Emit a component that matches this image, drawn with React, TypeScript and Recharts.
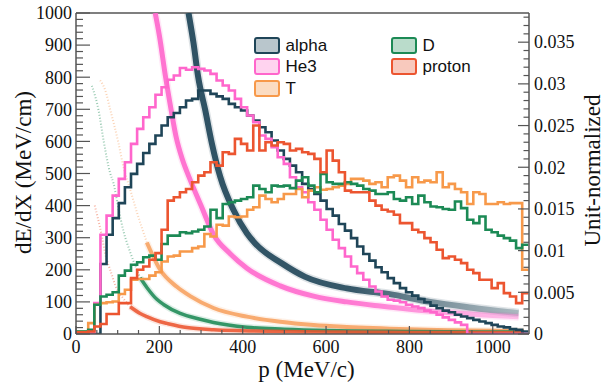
import React from "react";
import {
  ComposedChart,
  Line,
  XAxis,
  YAxis,
  ReferenceLine,
  Legend,
} from "recharts";

/* ------------------------------------------------------------------ */
/* Data */
/* ------------------------------------------------------------------ */

// histograms: 75 bins over 0..1100 MeV/c, contents in units of 1e-3 (unit-normalized)
const HIST_RANGE = 1100;
const HIST_BINS = 75;
const HIST_UNIT = 1e-3;

const alphaHist = [
  0, 0, 0, 0, 8.4, 11.9, 13.9, 15.7, 17.6, 19.2, 20.4, 21.7, 22.8, 23.8, 25.0,
  26.0, 26.5, 27.2, 28.0, 28.2, 29.2, 29.2, 28.8, 28.5, 28.2, 27.6, 27.2, 26.8,
  26.2, 25.6, 24.8, 24.2, 23.2, 22.0, 21.0, 20.2, 19.4, 18.0, 17.4, 16.8, 16.0,
  15.0, 14.2, 13.2, 12.4, 11.5, 10.5, 9.6, 8.8, 8.0, 7.4, 6.7, 6.1, 5.5, 5.0,
  4.6, 4.2, 3.8, 3.4, 3.1, 2.8, 2.6, 2.3, 2.1, 1.9, 1.7, 1.5, 1.3, 1.1, 0.9,
  0.8, 0.6, 0.5, 0.3,
];

const he3Hist = [
  0.15, 0.15, 0.2, 3.7, 11.9, 14.2, 16.6, 18.6, 20.6, 22.8, 24.6, 26.0, 27.2,
  28.7, 29.6, 30.5, 31.0, 31.9, 31.7, 32.0, 31.8, 31.6, 31.2, 30.4, 29.8, 29.2,
  28.2, 27.2, 26.2, 25.4, 23.8, 23.4, 22.4, 21.2, 20.4, 18.8, 17.6, 17.0, 15.8,
  14.9, 13.7, 12.5, 11.3, 10.3, 9.3, 8.1, 7.3, 6.5, 5.7, 5.1, 4.5, 4.1, 4.0,
  3.8, 3.5, 3.3, 3.1, 2.8, 2.6, 2.3, 2.0, 1.7, 1.4, 1.1, 0, 0, 0, 0, 0, 0, 0,
  0, 0, 0,
];

const tritonHist = [
  0.3, 0.3, 1.3, 3.5, 3.7, 3.8, 3.9, 4.8, 5.3, 6.5, 6.6, 6.6, 7.0, 7.4, 8.7,
  9.3, 9.4, 9.9, 9.9, 10.3, 10.5, 12.0, 11.7, 13.1, 13.0, 14.1, 14.0, 14.1,
  14.9, 15.2, 16.6, 16.2, 15.8, 16.2, 16.8, 16.8, 17.4, 16.4, 17.2, 17.6, 17.3,
  17.4, 17.6, 17.8, 18.0, 18.6, 18.6, 18.4, 18.0, 18.2, 17.6, 18.8, 19.0, 18.4,
  17.6, 18.8, 18.2, 18.4, 18.2, 19.4, 17.6, 18.0, 17.4, 17.0, 15.6, 17.0, 16.8,
  15.6, 15.6, 15.8, 15.6, 15.7, 15.7, 7.7,
];

const deuteronHist = [
  0.3, 0.3, 0.5, 3.5, 4.5, 4.7, 5.0, 7.0, 7.6, 8.3, 8.6, 9.2, 9.4, 8.9, 10.8,
  11.8, 11.8, 12.2, 12.1, 12.3, 12.5, 12.9, 14.9, 13.9, 15.6, 15.8, 16.0, 16.2,
  16.4, 17.8, 17.4, 17.0, 17.8, 17.7, 17.8, 17.5, 18.4, 18.8, 17.8, 17.0, 19.2,
  18.2, 18.0, 18.0, 18.2, 18.0, 17.8, 17.4, 17.2, 16.8, 16.8, 17.0, 16.2, 16.0,
  16.4, 15.6, 16.6, 15.8, 15.3, 15.2, 15.0, 14.9, 15.9, 15.1, 13.7, 13.3, 14.1,
  12.5, 12.2, 11.8, 11.5, 11.2, 10.3, 10.7,
];

const protonHist = [
  0.2, 0.2, 0.3, 0.9, 1.2, 2.4, 2.4, 3.7, 3.7, 6.7, 7.7, 8.1, 8.9, 9.7, 12.5,
  16.0, 16.4, 17.0, 17.4, 18.2, 19.0, 19.4, 20.6, 20.2, 21.8, 21.6, 23.4, 22.8,
  22.0, 25.0, 22.0, 23.0, 22.6, 23.0, 22.8, 22.0, 22.2, 21.8, 21.6, 21.0, 19.4,
  22.0, 20.8, 19.4, 17.2, 17.0, 17.0, 17.0, 16.0, 15.4, 14.9, 14.7, 14.3, 13.3,
  13.3, 12.5, 12.2, 11.5, 11.0, 10.1, 9.1, 9.3, 8.9, 8.5, 7.7, 7.3, 6.5, 6.5,
  5.5, 6.1, 4.9, 4.5, 3.7, 4.9,
];

// dE/dx bands (centre of the scatter cloud): momentum p and dE/dX (MeV/cm)
const alphaBandP = [270, 282, 293, 310, 326, 346, 378, 410, 430, 494, 550, 650, 750, 850, 950, 1062];
const alphaBandDedx = [1000, 906, 802, 698, 594, 490, 386, 314, 282, 220, 178, 142, 125, 100, 82, 65];

const he3BandP = [190, 200, 215, 228, 240, 255, 274, 300, 330, 370, 410, 490, 570, 650, 730, 800, 900, 1000, 1062];
const he3BandDedx = [1000, 930, 800, 700, 615, 545, 480, 400, 310, 250, 205, 150, 118, 100, 87, 77, 66, 58, 54];

const tritonFaintP = [58, 70, 82, 102, 114, 130, 146, 170];
const tritonFaintDedx = [790, 760, 700, 594, 520, 450, 380, 285];
const tritonBandP = [170, 202, 242, 274, 330, 410, 490, 570, 650, 800, 1000, 1075];
const tritonBandDedx = [285, 200, 147, 118, 81, 54, 38, 28, 22, 15, 10, 9];

const deuteronFaintP = [38, 54, 66, 82, 90, 102, 114, 130, 154];
const deuteronFaintDedx = [773, 698, 604, 501, 470, 390, 320, 255, 175];
const deuteronBandP = [154, 170, 194, 210, 250, 298, 330, 410, 500, 600, 800, 1000, 1075];
const deuteronBandDedx = [175, 145, 108, 92, 64, 46, 36, 21, 15, 11, 8, 6, 6];

const protonFaintP = [45, 58, 74, 82, 98, 114, 130];
const protonFaintDedx = [400, 330, 230, 200, 140, 110, 85];
const protonBandP = [130, 154, 170, 202, 218, 266, 330, 400, 600, 800, 1075];
const protonBandDedx = [85, 64, 54, 38, 33, 20, 13, 10, 6, 5, 4];

// axis ticks
const pTicks = Array.from({ length: 22 }, (_, i) => i * 50);
const dedxTicks = Array.from({ length: 51 }, (_, i) => i * 20);
const normTicks = Array.from({ length: 39 }, (_, i) => i / 1000);

/* ------------------------------------------------------------------ */
/* Helpers */
/* ------------------------------------------------------------------ */

const binWidth = HIST_RANGE / HIST_BINS;

const histRows = (vals: number[]) => {
  const rows = vals.map((v, i) => ({ p: i * binWidth, v: v * HIST_UNIT }));
  rows.push({ p: vals.length * binWidth, v: vals[vals.length - 1] * HIST_UNIT });
  return rows;
};

const bandRows = (ps: number[], ds: number[]) => ps.map((p, i) => ({ p, d: ds[i] }));

const FRAME = "#555";
const SERIF = '"Liberation Serif", "Times New Roman", Times, serif';
const SANS = '"Liberation Sans", Arial, Helvetica, sans-serif';
const TICK_MARGIN = 6;

const serifText = { fontFamily: SERIF, fill: "#111" };

const species = [
  { name: "alpha", line: "#1f4558", fill: "#b9c6cc", hist: alphaHist },
  { name: "He3", line: "#ff66cc", fill: "#ffd3ef", hist: he3Hist },
  { name: "T", line: "#f7994a", fill: "#fbdcc2", hist: tritonHist },
  { name: "D", line: "#1c8a55", fill: "#badccb", hist: deuteronHist },
  { name: "proton", line: "#ec5530", fill: "#f8c9bd", hist: protonHist },
];

// stroke is either a flat colour or a gradient that thins the cloud at high p
const bands = [
  { key: "alphaBand", color: "#1f4558", stroke: "url(#alphaFade)", width: 6, data: bandRows(alphaBandP, alphaBandDedx) },
  { key: "he3Band", color: "#ff66cc", stroke: "url(#he3Fade)", width: 5, data: bandRows(he3BandP, he3BandDedx) },
  { key: "tBand", color: "#f7a060", stroke: "#f7a060", width: 4, data: bandRows(tritonBandP, tritonBandDedx) },
  { key: "dBand", color: "#1c8a55", stroke: "#1c8a55", width: 3.5, data: bandRows(deuteronBandP, deuteronBandDedx) },
  { key: "pBand", color: "#ec5530", stroke: "#ec5530", width: 3.5, data: bandRows(protonBandP, protonBandDedx) },
];

const faintBands = [
  { key: "tFaint", color: "#f7a060", data: bandRows(tritonFaintP, tritonFaintDedx) },
  { key: "dFaint", color: "#1c8a55", data: bandRows(deuteronFaintP, deuteronFaintDedx) },
  { key: "pFaint", color: "#ec5530", data: bandRows(protonFaintP, protonFaintDedx) },
];

/* ------------------------------------------------------------------ */
/* Axis ticks (ROOT style, pointing into the frame) */
/* ------------------------------------------------------------------ */

const LeftTick = (props: any) => {
  const { x, y, payload } = props;
  const v = payload.value as number;
  const major = v % 100 === 0;
  const x0 = x + TICK_MARGIN;
  return (
    <g>
      <line x1={x0} y1={y} x2={x0 + (major ? 14 : 7)} y2={y} stroke={FRAME} strokeWidth={1.2} />
      {major && (
        <text x={x0 - 4} y={y} dy="0.35em" textAnchor="end" fontSize={18} style={serifText}>
          {v}
        </text>
      )}
    </g>
  );
};

const BottomTick = (props: any) => {
  const { x, y, payload } = props;
  const v = payload.value as number;
  const major = v % 200 === 0;
  const y0 = y - TICK_MARGIN;
  return (
    <g>
      <line x1={x} y1={y0} x2={x} y2={y0 - (major ? 8 : 4)} stroke={FRAME} strokeWidth={1.2} />
      {major && (
        <text x={x} y={y0 + 19} textAnchor="middle" fontSize={18} style={serifText}>
          {v}
        </text>
      )}
    </g>
  );
};

const RightTick = (props: any) => {
  const { x, y, payload } = props;
  const v = payload.value as number;
  const major = Math.round(v * 1000) % 5 === 0;
  const x0 = x - TICK_MARGIN;
  return (
    <g>
      <line x1={x0} y1={y} x2={x0 - (major ? 11 : 5.5)} y2={y} stroke={FRAME} strokeWidth={1.2} />
      {major && (
        <text x={x0 + 5} y={y} dy="0.35em" textAnchor="start" fontSize={18} style={serifText}>
          {Number(v.toFixed(3)).toString()}
        </text>
      )}
    </g>
  );
};

/* ------------------------------------------------------------------ */
/* Axis titles and legend */
/* ------------------------------------------------------------------ */

const XTitle = (props: any) => {
  const vb = props.viewBox;
  return (
    <text x={vb.x + vb.width / 2 + 4} y={vb.y + 43} textAnchor="middle" fontSize={23} style={serifText}>
      p (MeV/c)
    </text>
  );
};

const LeftTitle = (props: any) => {
  const vb = props.viewBox;
  const cx = vb.x + 31;
  const cy = vb.y + vb.height / 2 - 1;
  return (
    <text x={cx} y={cy} transform={`rotate(-90 ${cx} ${cy})`} textAnchor="middle" fontSize={23} style={serifText}>
      dE/dX (MeV/cm)
    </text>
  );
};

const RightTitle = (props: any) => {
  const vb = props.viewBox;
  const cx = vb.x + 71;
  const cy = vb.y + vb.height / 2 - 3;
  return (
    <text x={cx} y={cy} transform={`rotate(-90 ${cx} ${cy})`} textAnchor="middle" fontSize={23} style={serifText}>
      Unit-normalized
    </text>
  );
};

const LegendBox = () => (
  <div style={{ position: "relative", width: 605, height: 110 }}>
    {species.map((s, i) => {
      const col = i < 3 ? 0 : 1;
      const row = i < 3 ? i : i - 3;
      return (
        <div
          key={s.name}
          style={{
            position: "absolute",
            left: col === 0 ? 254 : 391,
            top: 36.5 + row * 21.7,
            display: "flex",
            alignItems: "center",
          }}
        >
          <div
            style={{
              width: 26,
              height: 17,
              boxSizing: "border-box",
              border: `2.5px solid ${s.line}`,
              background: s.fill,
              borderRadius: 3,
            }}
          />
          <span style={{ marginLeft: 5.5, fontFamily: SANS, fontSize: 17, color: "#111", lineHeight: "17px" }}>
            {s.name}
          </span>
        </div>
      );
    })}
  </div>
);

/* ------------------------------------------------------------------ */
/* Chart */
/* ------------------------------------------------------------------ */

export default function App() {
  return (
    <div style={{ position: "absolute", left: 0, top: 0, background: "#fff", fontFamily: SERIF }}>
      <ComposedChart width={605} height={386} margin={{ top: 13, right: 0, bottom: 0, left: 0 }}>
        <defs>
          <linearGradient id="alphaFade" x1="0" y1="0" x2="1" y2="0">
            <stop offset="0" stopColor="#1f4558" stopOpacity={0.92} />
            <stop offset="0.5" stopColor="#1f4558" stopOpacity={0.88} />
            <stop offset="1" stopColor="#5f7a86" stopOpacity={0.4} />
          </linearGradient>
          <linearGradient id="he3Fade" x1="0" y1="0" x2="1" y2="0">
            <stop offset="0" stopColor="#ff66cc" stopOpacity={0.9} />
            <stop offset="0.55" stopColor="#ff66cc" stopOpacity={0.85} />
            <stop offset="1" stopColor="#ff8ad8" stopOpacity={0.45} />
          </linearGradient>
        </defs>
        <XAxis
          dataKey="p"
          type="number"
          domain={[0, 1087]}
          allowDataOverflow
          ticks={pTicks}
          interval={0}
          tickSize={0}
          tickMargin={TICK_MARGIN}
          tickLine={false}
          tick={BottomTick}
          axisLine={{ stroke: FRAME, strokeWidth: 1.5 }}
          height={52}
          label={XTitle}
        />
        <YAxis
          yAxisId="left"
          type="number"
          domain={[0, 1000]}
          allowDataOverflow
          ticks={dedxTicks}
          interval={0}
          tickSize={0}
          tickMargin={TICK_MARGIN}
          tickLine={false}
          tick={LeftTick}
          axisLine={{ stroke: FRAME, strokeWidth: 1.5 }}
          width={76}
          label={LeftTitle}
        />
        <YAxis
          yAxisId="right"
          orientation="right"
          type="number"
          domain={[0, 0.0385]}
          allowDataOverflow
          ticks={normTicks}
          interval={0}
          tickSize={0}
          tickMargin={TICK_MARGIN}
          tickLine={false}
          tick={RightTick}
          axisLine={{ stroke: FRAME, strokeWidth: 1.5 }}
          width={76}
          label={RightTitle}
        />
        <ReferenceLine yAxisId="left" y={1000} stroke={FRAME} strokeWidth={1.5} />

        {/* faint low-momentum parts of the scatter bands */}
        {faintBands.map(b => (
          <Line
            key={b.key}
            yAxisId="left"
            data={b.data}
            dataKey="d"
            type="monotone"
            stroke={b.color}
            strokeWidth={2}
            strokeOpacity={0.45}
            strokeDasharray="1 2"
            dot={false}
            activeDot={false}
            isAnimationActive={false}
          />
        ))}

        {/* dense scatter bands: soft halo plus core */}
        {bands.map(b => (
          <Line
            key={b.key + "-halo"}
            yAxisId="left"
            data={b.data}
            dataKey="d"
            type="monotone"
            stroke={b.color}
            strokeWidth={b.width + 3}
            strokeOpacity={0.15}
            dot={false}
            activeDot={false}
            isAnimationActive={false}
          />
        ))}
        {bands.map(b => (
          <Line
            key={b.key}
            yAxisId="left"
            data={b.data}
            dataKey="d"
            type="monotone"
            stroke={b.stroke}
            strokeWidth={b.width}
            strokeOpacity={b.stroke.startsWith("url") ? 1 : 0.88}
            dot={false}
            activeDot={false}
            isAnimationActive={false}
          />
        ))}

        {/* unit-normalized momentum histograms */}
        {species.map(s => (
          <Line
            key={s.name}
            yAxisId="right"
            data={histRows(s.hist)}
            dataKey="v"
            name={s.name}
            type="stepAfter"
            stroke={s.line}
            strokeWidth={2.6}
            strokeLinejoin="miter"
            dot={false}
            activeDot={false}
            isAnimationActive={false}
          />
        ))}

        <Legend
          layout="horizontal"
          verticalAlign="middle"
          align="center"
          content={LegendBox}
          wrapperStyle={{ left: 0, top: 0, width: 605, height: 110, margin: 0 }}
        />
      </ComposedChart>
    </div>
  );
}
